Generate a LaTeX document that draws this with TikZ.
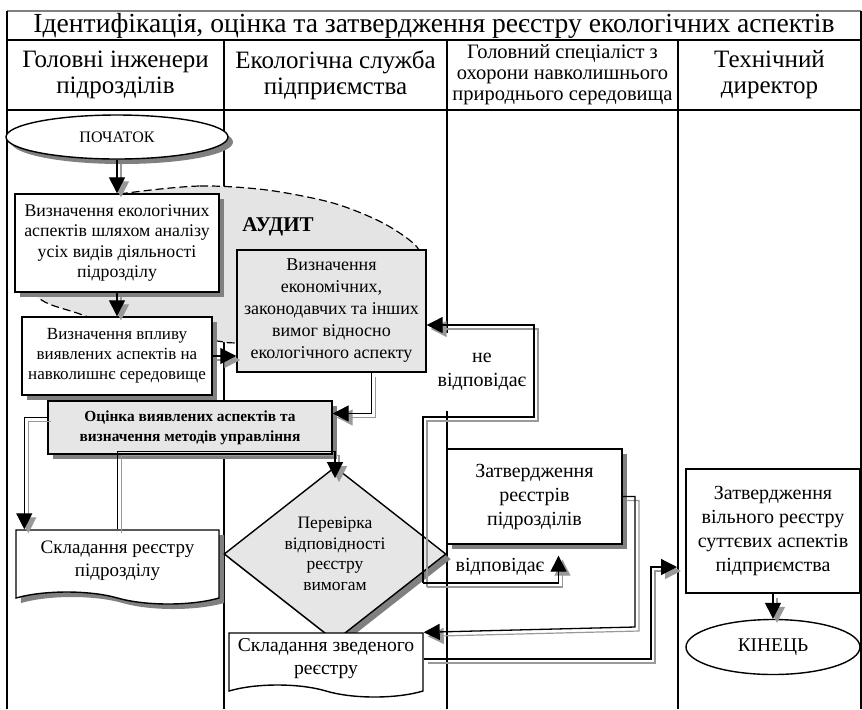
\documentclass[tikz,border=0pt]{standalone}
\usepackage{fontspec}
\setmainfont{Liberation Serif}
\usepackage{tikz}
\usetikzlibrary{arrows.meta, shapes.geometric, shapes.symbols, shadows}
\definecolor{boxgray}{RGB}{230, 230, 230}
\definecolor{auditgray}{RGB}{228, 228, 228}
\definecolor{shadowgray}{RGB}{128, 128, 128}
\newcommand{\fsz}[2]{\fontsize{#1}{#2}\selectfont}

\tikzset{
    lane/.style={line width=0.8pt},
    shadowed/.style={drop shadow={shadow xshift=2.5pt, shadow yshift=-2.5pt, fill=shadowgray, opacity=1}},
    stepbox/.style={draw, line width=0.7pt, fill=white, align=center, inner sep=1pt},
    doc/.style={tape, tape bend top=none, tape bend bottom=out and in, tape bend height=6pt},
    link/.style={line width=0.65pt, -{Triangle[length=8pt, width=8pt]},
        preaction={draw=black!40, line width=0.6pt, transform canvas={xshift=2pt, yshift=-2pt}}}
}

\begin{document}
\begin{tikzpicture}[x=0.5pt, y=-0.5pt]
    \useasboundingbox (0,0) rectangle (862,709);
    \draw[lane, black!50] (7,11) -- (861,11);
    \draw[lane] (7,11) -- (7,709) (861,11) -- (861,709) (7,40) -- (861,40) (7,110) -- (861,110);
    \foreach \x in {224,447,678}
    {
        \draw[lane] (\x,40) -- (\x,709);
    }
    \node[font=\fsz{13.8}{15}] (title) at (434,26) {Ідентифікація, оцінка та затвердження реєстру екологічних аспектів};
    \node[align=center, font=\fsz{12.5}{13}] (head1) at (115.5,75) {Головні інженери\\підрозділів};
    \node[align=center, font=\fsz{12.5}{13}] (head2) at (335.5,75) {Екологічна служба\\підприємства};
    \node[align=center, font=\fsz{10.25}{10.5}] (head3) at (562.5,75) {Головний спеціаліст з\\охорони навколишнього\\природнього середовища};
    \node[align=center, font=\fsz{12.5}{13}] (head4) at (769.5,75) {Технічний\\директор};

    \draw[dashed, dash pattern=on 4pt off 2pt, line width=0.6pt, fill=auditgray] plot[smooth cycle] coordinates
        {(127,193) (200,186) (267,190) (333,203) (383,223) (417,247) (418,268) (400,320) (350,345)
         (237,343) (217,341) (133,330) (77,313) (38,297) (25,255) (60,205)};
    \node[font=\bfseries\fsz{10.5}{12}] (audit) at (278,227) {АУДИТ};

    \node[stepbox, ellipse, shadowed, minimum width=111pt, minimum height=22pt, font=\fsz{8}{9}] (start) at (117,137) {ПОЧАТОК};
    \node[stepbox, shadowed, minimum width=102pt, minimum height=49pt, font=\fsz{8.9}{10.2}] (define) at (117,243)
        {Визначення екологічних\\аспектів шляхом аналізу\\усіх видів діяльності\\підрозділу};
    \node[stepbox, shadowed, minimum width=95pt, minimum height=39pt, font=\fsz{8.5}{10}] (impact) at (117,356)
        {Визначення впливу\\виявлених аспектів на\\навколишнє середовище};
    \node[stepbox, fill=boxgray, minimum width=94.5pt, minimum height=61pt, font=\fsz{9}{11}] (require) at (331.5,311)
        {Визначення\\економічних,\\законодавчих та інших\\вимог відносно\\екологічного аспекту};
    \node[stepbox, shadowed, fill=boxgray, minimum width=142pt, minimum height=26.5pt, font=\bfseries\fsz{7.7}{10}] (assess) at (190,427.5)
        {Оцінка виявлених аспектів та\\визначення методів управління};
    \node[stepbox, doc, shadowed, minimum width=101.5pt, minimum height=37pt, font=\fsz{9.5}{11.5}] (unitreg) at (117.5,561)
        {Складання реєстру\\підрозділу};
    \node[stepbox, diamond, shadowed, fill=boxgray, minimum width=111pt, minimum height=80pt, inner sep=0pt, font=\fsz{8.75}{10.25}] (check) at (335,554)
        {Перевірка\\відповідності\\реєстру\\вимогам};
    \node[stepbox, doc, minimum width=97pt, minimum height=32pt, font=\fsz{9.8}{11.5}] (summary) at (326,659)
        {Складання зведеного\\реєстру};
    \node[stepbox, shadowed, minimum width=87.5pt, minimum height=47.5pt, font=\fsz{10}{12}] (approve) at (534.5,496.5)
        {Затвердження\\реєстрів\\підрозділів};
    \node[stepbox, minimum width=87pt, minimum height=62pt, font=\fsz{10}{12}] (final) at (773,531)
        {Затвердження\\вільного реєстру\\суттєвих аспектів\\підприємства};
    \node[stepbox, ellipse, minimum width=87pt, minimum height=27.5pt, font=\fsz{9.7}{11}] (finish) at (773,647) {КІНЕЦЬ};

    \node[fill=white, align=center, inner xsep=2pt, minimum height=39pt, font=\fsz{10}{12}] (no) at (482,372) {не\\відповідає};
    \node[font=\fsz{10}{12}] (yes) at (500,567) {відповідає};
    \coordinate (fork) at (423,583);
    \coordinate (in8) at (677,567);

    \draw[link] (start.south) -- (define.north);
    \draw[link] (define.south) -- (impact.north);
    \draw[link] (impact.east) -- (impact.east -| require.west);
    \draw[link] ([xshift=20pt]require.south) |- ([yshift=7pt]assess.east);
    \draw[link] ([yshift=5pt]assess.west) -| ([xshift=4.5pt]unitreg.north west);
    \draw[link] (unitreg.north) |- ([yshift=7.5pt]check.north) -- ([yshift=-6pt]check.north);
    \draw[link] (fork) |- (534,417) |- ([yshift=-7pt]require.east);
    \draw[link] (fork) -| ([xshift=12pt, yshift=-5.5pt]approve.south);
    \draw[link] (approve.east) -| (635,627) -- (summary.north east);
    \draw[link] (summary.east) -| (651,567) -- (in8);
    \draw[link] (final.south) -- (finish.north);
\end{tikzpicture}
\end{document}
